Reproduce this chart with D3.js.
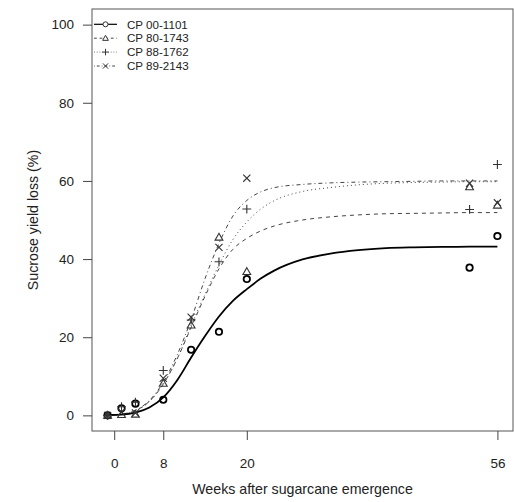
<!DOCTYPE html>
<html lang="en">
<head>
<meta charset="UTF-8">
<title>Sucrose yield loss</title>
<script src="https://d3js.org/d3.v7.min.js"></script>
<style>
    body { margin: 0; background: #fff; }
    svg { display: block; font-family: "Liberation Sans", Arial, sans-serif; }
    .tick-label { font-size: 13.5px; fill: #222; }
    .axis-title { font-size: 14.2px; fill: #222; }
    .legend-text { font-size: 11.6px; fill: #222; }
</style>
</head>
<body>
<svg id="chart" width="514" height="502"></svg>
<script>
    // observed sucrose yield loss (%) per week after emergence
    const weeks = [0, 2, 4, 8, 12, 16, 20, 52, 56];
    const loss00 = [0, 1.8, 3.0, 4.0, 16.8, 21.4, 34.9, 37.8, 45.9];
    const loss80 = [0, 0.2, 0.3, 8.2, 23.1, 45.6, 36.8, 58.5, 53.8];
    const loss88 = [0, 2.2, 3.4, 11.5, 24.4, 39.3, 52.8, 52.7, 64.2];
    const loss89 = [0, 0.8, 0.6, 9.5, 25.1, 43.0, 60.7, 59.4, 54.4];

    // fitted curves
    const fitWeeks = [0, 2, 4, 6, 8, 10, 12, 14, 16, 18, 20, 22, 24, 28, 32, 36, 40, 44, 48, 52, 56];
    const fit00 = [0.1, 0.2, 0.7, 2.0, 4.6, 9.0, 14.8, 20.3, 25.3, 29.3, 32.3, 35.0, 37.1, 39.9, 41.4, 42.3, 42.8, 43.0, 43.1, 43.2, 43.2];
    const fit80 = [0, 0.3, 1.2, 3.6, 8.0, 14.5, 22.5, 30.5, 37.5, 42.5, 45.3, 47.2, 48.5, 50.0, 50.8, 51.3, 51.6, 51.7, 51.8, 51.9, 51.9];
    const fit88 = [0, 0.3, 1.2, 3.5, 8.0, 14.5, 23.0, 31.0, 38.5, 45.0, 49.5, 52.8, 55.0, 57.3, 58.3, 59.0, 59.4, 59.6, 59.7, 59.8, 59.8];
    const fit89 = [0, 0.3, 1.3, 3.8, 8.5, 15.5, 24.5, 35.0, 44.0, 51.0, 55.0, 57.2, 58.3, 59.1, 59.5, 59.7, 59.8, 59.9, 60.0, 60.0, 60.0];

    const cultivars = ["CP 00-1101", "CP 80-1743", "CP 88-1762", "CP 89-2143"];

    // axis ticks (the "0" tick sits a little right of week 0 in the original)
    const xTickValues = [0.95, 8, 20, 56];
    const xTickLabels = ["0", "8", "20", "56"];
    const yTickValues = [0, 20, 40, 60, 80, 100];

    const svg = d3.select("#chart");
    const plot = { left: 92, right: 513, top: 9, bottom: 431 };

    const x = d3.scaleLinear().domain([-2.24, 58.24]).range([plot.left, plot.right]);
    const y = d3.scaleLinear().domain([-4, 104]).range([plot.bottom, plot.top]);

    const series = [
        { name: cultivars[0], obs: loss00, fit: fit00, dash: null, width: 1.8, color: "#000", shape: "circle" },
        { name: cultivars[1], obs: loss80, fit: fit80, dash: "4,4", width: 1, color: "#444", shape: "triangle" },
        { name: cultivars[2], obs: loss88, fit: fit88, dash: "1,3", width: 1, color: "#444", shape: "plus" },
        { name: cultivars[3], obs: loss89, fit: fit89, dash: "1,3,4,3", width: 1, color: "#444", shape: "times" }
    ];

    // symbol paths centred on 0,0
    function symbolPath(shape, s) {
        if (shape === "circle") {
            return `M${s},0A${s},${s} 0 1,1 ${-s},0A${s},${s} 0 1,1 ${s},0Z`;
        }
        if (shape === "triangle") {
            const h = s * 1.15;
            return `M0,${-h}L${h},${h * 0.75}L${-h},${h * 0.75}Z`;
        }
        if (shape === "plus") {
            const p = s * 1.3;
            return `M${-p},0H${p}M0,${-p}V${p}`;
        }
        const t = s * 1.05;
        return `M${-t},${-t}L${t},${t}M${-t},${t}L${t},${-t}`;
    }

    // fitted lines
    const line = d3.line()
        .x((d, i) => x(fitWeeks[i]))
        .y(d => y(d))
        .curve(d3.curveMonotoneX);

    svg.append("g").selectAll("path")
        .data(series.slice().reverse())
        .join("path")
        .attr("d", d => line(d.fit))
        .attr("fill", "none")
        .attr("stroke", d => d.color)
        .attr("stroke-width", d => d.width)
        .attr("stroke-dasharray", d => d.dash);

    // observed points
    series.forEach(s => {
        svg.append("g").selectAll("path")
            .data(s.obs)
            .join("path")
            .attr("transform", (d, i) => `translate(${x(weeks[i])},${y(d)})`)
            .attr("d", symbolPath(s.shape, s.shape === "circle" ? 3.2 : 3.4))
            .attr("fill", "none")
            .attr("stroke", s.shape === "circle" ? "#000" : "#333")
            .attr("stroke-width", s.shape === "circle" ? 1.8 : 1.1);
    });

    // frame
    svg.append("rect")
        .attr("x", plot.left).attr("y", plot.top)
        .attr("width", plot.right - plot.left).attr("height", plot.bottom - plot.top)
        .attr("fill", "none").attr("stroke", "#555").attr("stroke-width", 1);

    // x axis
    const xAxis = svg.append("g").attr("transform", `translate(0,${plot.bottom})`)
        .call(d3.axisBottom(x).tickValues(xTickValues)
            .tickFormat((d, i) => xTickLabels[i]).tickSize(9).tickPadding(18));
    xAxis.select(".domain").remove();

    // y axis
    const yAxis = svg.append("g").attr("transform", `translate(${plot.left},0)`)
        .call(d3.axisLeft(y).tickValues(yTickValues).tickSize(9).tickPadding(9));
    yAxis.select(".domain").remove();

    [xAxis, yAxis].forEach(ax => {
        ax.attr("font-size", null).attr("font-family", null);
        ax.selectAll("line").attr("stroke", "#444");
        ax.selectAll("text").attr("class", "tick-label");
    });

    // axis titles
    svg.append("text").attr("class", "axis-title")
        .attr("x", (plot.left + plot.right) / 2).attr("y", 494)
        .attr("text-anchor", "middle")
        .text("Weeks after sugarcane emergence");

    svg.append("text").attr("class", "axis-title")
        .attr("transform", `translate(38,${(plot.top + plot.bottom) / 2}) rotate(-90)`)
        .attr("text-anchor", "middle")
        .text("Sucrose yield loss (%)");

    // legend
    const legend = svg.append("g").attr("transform", "translate(94,24.3)");
    const rows = legend.selectAll("g").data(series).join("g")
        .attr("transform", (d, i) => `translate(0,${i * 13.9})`);
    rows.append("line")
        .attr("x1", 0).attr("x2", 23).attr("y1", 0).attr("y2", 0)
        .attr("stroke", d => d.color)
        .attr("stroke-width", d => d.shape === "circle" ? 1.2 : 1)
        .attr("stroke-dasharray", d => d.dash ? d.dash.split(",").map(v => v * 0.7).join(",") : null);
    rows.append("path")
        .attr("transform", "translate(11.5,0)")
        .attr("d", d => symbolPath(d.shape, 2.5))
        .attr("fill", "#fff")
        .attr("stroke", "#333")
        .attr("stroke-width", 1);
    rows.append("text").attr("class", "legend-text")
        .attr("x", 33).attr("y", 4.2)
        .text(d => d.name);
</script>
</body>
</html>
